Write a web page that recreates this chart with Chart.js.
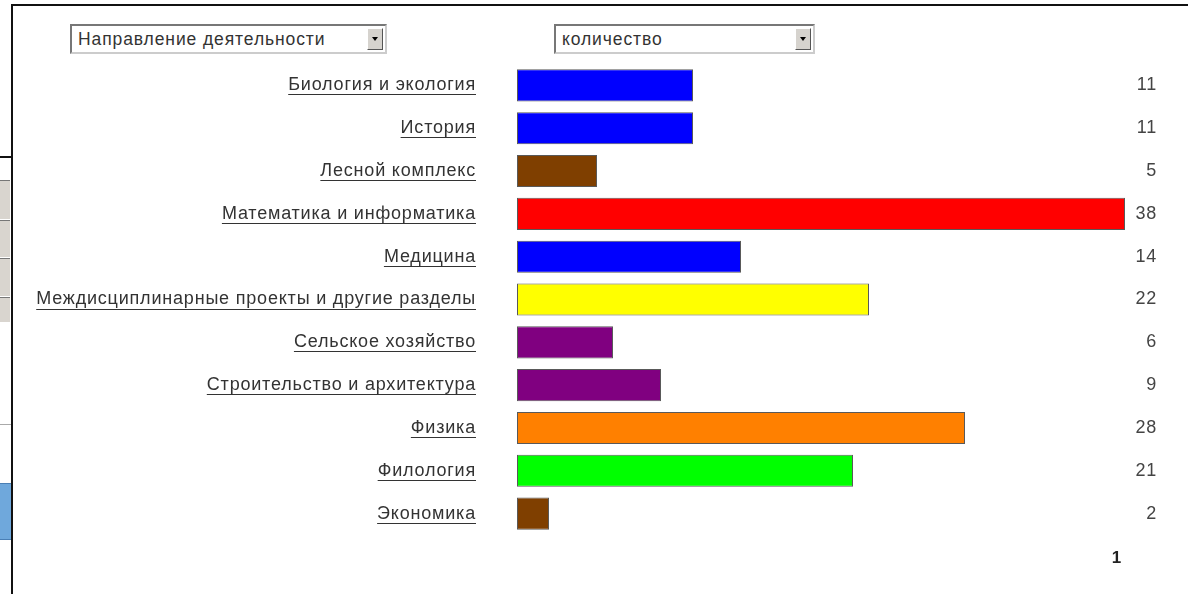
<!DOCTYPE html>
<html>
<head>
<meta charset="utf-8">
<script src="https://cdn.jsdelivr.net/npm/chart.js@4"></script>
<style>
    body { margin: 0; background: #fff; font-family: "Liberation Sans", Arial, sans-serif; }
    #wrap { position: relative; width: 1188px; height: 594px; overflow: hidden; background: #fff; }
    #chart { position: absolute; left: 0; top: 0; }
    .frame-top  { position: absolute; left: 11px; top: 4px; width: 1177px; height: 2px; background: #111; }
    .frame-left { position: absolute; left: 11px; top: 4px; width: 2px; height: 590px; background: #111; }
    .frame-tick { position: absolute; left: 0; top: 156px; width: 12px; height: 2px; background: #111; }
    .side-box   { position: absolute; left: 0; width: 10px; background: #d9d5cf; border-top: 1px solid #777; }
    .side-line  { position: absolute; left: 0; top: 424px; width: 11px; height: 1px; background: #aaa; }
    .side-btn   { position: absolute; left: 0; top: 483px; width: 11px; height: 55px; background: #6fa8dc; border-top: 1px solid #4a7fb5; border-bottom: 1px solid #4a7fb5; }
    .select {
        position: absolute; height: 26px; background: #fff;
        border: 2px solid; border-color: #777 #ccc #ccc #777;
        font-size: 17.5px; letter-spacing: 0.9px; color: #333; line-height: 26px; padding-left: 6px; box-sizing: content-box;
    }
    .select .arrow {
        position: absolute; right: 2px; top: 2px; width: 16px; height: 22px;
        background: #d6d3ce; border: 1px solid; border-color: #fff #555 #555 #fff; box-sizing: border-box;
    }
    .select .arrow:after {
        content: ''; position: absolute; left: 4px; top: 8px;
        border-left: 3px solid transparent; border-right: 3px solid transparent; border-top: 4px solid #000;
    }
</style>
</head>
<body>
<div id="wrap">
    <canvas id="chart" width="1188" height="594"></canvas>

    <div class="frame-top"></div>
    <div class="frame-left"></div>
    <div class="frame-tick"></div>
    <div class="side-box" style="top:180px;height:38px"></div>
    <div class="side-box" style="top:220px;height:36px"></div>
    <div class="side-box" style="top:258px;height:37px"></div>
    <div class="side-box" style="top:297px;height:24px"></div>
    <div class="side-line"></div>
    <div class="side-btn"></div>

    <div class="select" style="left:70px;top:24px;width:307px">Направление деятельности<span class="arrow"></span></div>
    <div class="select" style="left:554px;top:24px;width:251px">количество<span class="arrow"></span></div>
</div>

<script>
// ── DATA ─────────────────────────────────────────────

var categories = [
    'Биология и экология',
    'История',
    'Лесной комплекс',
    'Математика и информатика',
    'Медицина',
    'Междисциплинарные проекты и другие разделы',
    'Сельское хозяйство',
    'Строительство и архитектура',
    'Физика',
    'Филология',
    'Экономика'
];

var counts = [11, 11, 5, 38, 14, 22, 6, 9, 28, 21, 2];

var barColors = [
    '#0000ff', '#0000ff', '#7f3f00', '#ff0000', '#0000ff', '#ffff00',
    '#800080', '#800080', '#ff8000', '#00ff00', '#7f3f00'
];

var pageLabel = '1';

var FONT = '"Liberation Sans", Arial, sans-serif';

// ── PLUGINS ──────────────────────────────────────────

// wider letter spacing like the old screenshot
var spacing = {
    id: 'spacing',
    beforeDraw: function(chart) {
        chart.ctx.letterSpacing = '0.8px';
    }
};

// underline the category names and write counts at the right edge
var extras = {
    id: 'extras',
    afterDraw: function(chart) {
        var c = chart.ctx;
        var y = chart.scales.y;
        var area = chart.chartArea;
        c.save();
        c.letterSpacing = '0.8px';
        c.font = '18px ' + FONT;
        c.strokeStyle = '#333';
        c.lineWidth = 1;
        for (var i = 0; i < categories.length; i++) {
            var yy = y.getPixelForValue(i);
            var w = c.measureText(categories[i]).width;
            var right = area.left - 41;
            c.beginPath();
            c.moveTo(right - w, Math.round(yy + 9) + 0.5);
            c.lineTo(right, Math.round(yy + 9) + 0.5);
            c.stroke();

            c.textAlign = 'right';
            c.textBaseline = 'middle';
            c.fillStyle = '#444';
            c.fillText(String(counts[i]), area.right, yy);
        }
        c.font = 'bold 17px ' + FONT;
        c.fillStyle = '#222';
        c.textAlign = 'center';
        c.fillText(pageLabel, area.right - 40, area.bottom + 23);
        c.restore();
    }
};

// ── CHART ────────────────────────────────────────────

var ctx = document.getElementById('chart').getContext('2d');

var chart = new Chart(ctx, {
    type: 'bar',
    data: {
        labels: categories,
        datasets: [{
            data: counts,
            backgroundColor: barColors,
            borderColor: 'rgba(0,0,0,0.65)',
            borderWidth: 1,
            borderSkipped: false,
            categoryPercentage: 1,
            barPercentage: 0.75
        }]
    },
    options: {
        indexAxis: 'y',
        responsive: false,
        animation: false,
        layout: {
            padding: { top: 64, bottom: 59, left: 0, right: 31 }
        },
        plugins: {
            legend: { display: false },
            tooltip: { enabled: false }
        },
        scales: {
            x: {
                display: false,
                min: 0,
                max: 40
            },
            y: {
                grid: { display: false, drawTicks: false },
                border: { display: false },
                ticks: {
                    padding: 41,
                    color: '#333',
                    font: { family: FONT, size: 18 }
                },
                afterFit: function(s) {
                    s.width = 517;
                }
            }
        }
    },
    plugins: [spacing, extras]
});
</script>
</body>
</html>
